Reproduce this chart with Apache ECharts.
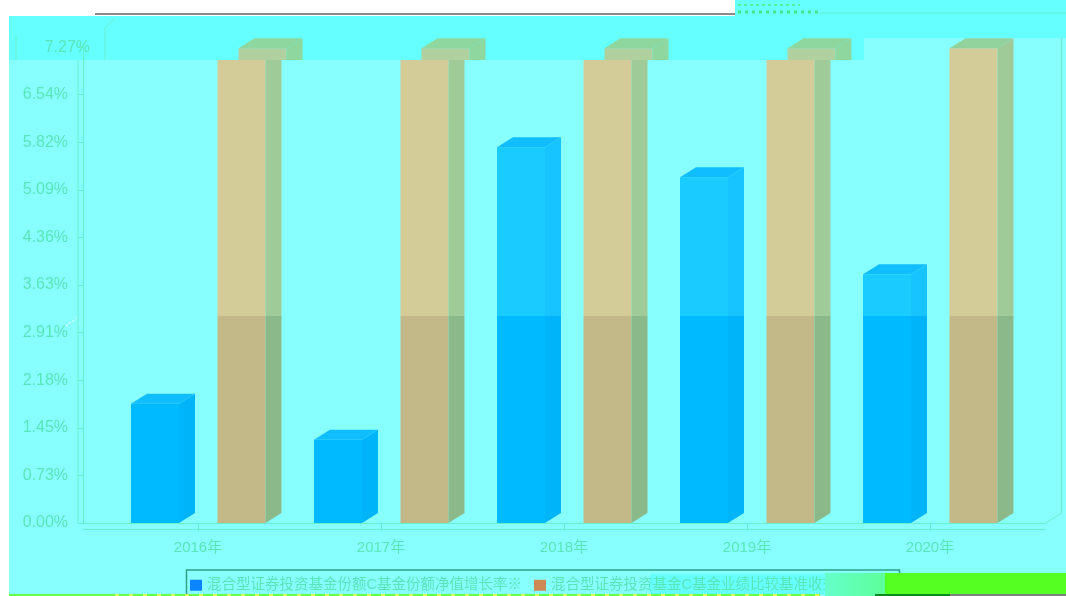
<!DOCTYPE html>
<html>
<head>
<meta charset="utf-8">
<style>html,body{margin:0;padding:0;background:#fff}#c{width:1066px;height:596px}</style>
<script src="https://cdn.jsdelivr.net/npm/echarts@6/dist/echarts.min.js"></script>
</head>
<body>
<div id="c"></div>
<script>
const categories = ['2016年', '2017年', '2018年', '2019年', '2020年'];
const fundReturn = [1.82, 1.27, 5.74, 5.28, 3.80];
const benchmarkReturn = [7.25, 7.25, 7.25, 7.25, 7.25];
const tickLabels = ['0.00%', '0.73%', '1.45%', '2.18%', '2.91%', '3.63%', '4.36%', '5.09%', '5.82%', '6.54%', '7.27%'];
const legendNames = ['混合型证券投资基金份额C基金份额净值增长率※', '混合型证券投资基金C基金业绩比较基准收益率'];

const TEXT = '#58E6B8', LINE = '#66F0CC';
const DX = 16, DY = -10, W = 48;
const SHADE_VALUE = 3.16, BAND_VALUE = 7.07, BAND_SHIFT = 21;

function poly(points, fill) {
  return { type: 'polygon', shape: { points }, style: { fill, stroke: null } };
}
function bar3d(pal, offset, shiftedCats) {
  return function (params, api) {
    const i = api.value(0), v = api.value(1);
    const kids = [];
    const cx = api.coord([i, 0])[0] + offset;
    const y = val => api.coord([i, val])[1];
    const yTop = y(v), yBase = y(0), yShade = y(SHADE_VALUE), yBand = y(BAND_VALUE);
    const sh = shiftedCats.includes(i) && v > BAND_VALUE;
    const L = cx - W / 2, R = L + W;
    if (v <= SHADE_VALUE) {
      kids.push(poly([[L, yBase], [R, yBase], [R, yTop], [L, yTop]], pal.frontLow));
      kids.push(poly([[R, yBase], [R + DX, yBase + DY], [R + DX, yTop + DY], [R, yTop]], pal.sideLow));
      kids.push(poly([[L, yTop], [R, yTop], [R + DX, yTop + DY], [L + DX, yTop + DY]], pal.top));
    } else {
      // lower darker part: the shade boundary is a flat horizontal edge across the front and side
      kids.push(poly([[L, yBase], [R, yBase], [R, yShade], [L, yShade]], pal.frontLow));
      kids.push(poly([[R, yBase], [R + DX, yBase + DY], [R + DX, yShade], [R, yShade]], pal.sideLow));
      const yEnd = sh ? yBand : yTop;
      kids.push(poly([[L, yShade], [R, yShade], [R, yEnd], [L, yEnd]], pal.front));
      if (sh) {
        kids.push(poly([[R, yShade], [R + DX, yShade], [R + DX, yBand], [R, yBand]], pal.side));
        const l = L + BAND_SHIFT, r = R + BAND_SHIFT;
        kids.push(poly([[l, yBand], [r, yBand], [r, yTop], [l, yTop]], pal.bandFront));
        kids.push(poly([[r, yBand], [r + DX, yBand], [r + DX, yTop + DY], [r, yTop]], pal.bandSide));
        kids.push(poly([[l, yTop], [r, yTop], [r + DX, yTop + DY], [l + DX, yTop + DY]], pal.bandSide));
      } else {
        kids.push(poly([[R, yShade], [R + DX, yShade], [R + DX, yTop + DY], [R, yTop]], pal.side));
        kids.push(poly([[L, yTop], [R, yTop], [R + DX, yTop + DY], [L + DX, yTop + DY]], pal.top));
      }
    }
    return { type: 'group', children: kids };
  };
}
const bluePal = { front: '#19CBFF', side: '#17C4FF', top: '#10BDFF', frontLow: '#00BAFF', sideLow: '#00B4FA' };
const tanPal = { front: '#D3CB98', side: '#9FCB98', top: '#92D29C', frontLow: '#C3B888', sideLow: '#8CB98A', bandFront: '#B0D0A0', bandSide: '#8ED8A0' };

const rect = (x, y, w, h, fill, z) => ({ type: 'rect', shape: { x, y, width: w, height: h }, style: { fill }, z });
const line = (x1, y1, x2, y2, stroke, z, lineWidth, lineDash) => ({ type: 'line', shape: { x1, y1, x2, y2 }, style: { stroke, lineWidth: lineWidth || 1, lineDash: lineDash || null }, z });

const chart = echarts.init(document.getElementById('c'), null, { renderer: 'canvas' });
chart.setOption({
  animation: false,
  backgroundColor: '#fff',
  textStyle: { fontFamily: 'Liberation Sans, Noto Sans CJK SC, sans-serif' },
  grid: { left: 106.5, top: 47, width: 915, height: 476 },
  xAxis: {
    type: 'category', data: categories,
    axisLine: { show: false },
    axisTick: { show: true, alignWithLabel: true, length: 8, lineStyle: { color: LINE } },
    axisLabel: { color: TEXT, fontSize: 15, margin: 17 }
  },
  yAxis: {
    type: 'value', min: 0, max: 7.2695, interval: 0.72695, offset: 23.5,
    axisLine: { show: true, lineStyle: { color: LINE } },
    axisTick: { show: true, length: 5, lineStyle: { color: LINE } },
    splitLine: { show: false },
    axisLabel: {
      color: TEXT, fontSize: 16, margin: 15,
      formatter: (value, index) => index === tickLabels.length - 1 ? '' : tickLabels[index]
    }
  },
  legend: {
    left: 186, top: 578, padding: [0, 4], itemWidth: 12, itemGap: 12, itemHeight: 11,
    icon: 'rect', textStyle: { color: TEXT, fontSize: 14.5 },
    data: legendNames
  },
  series: [
    { type: 'custom', name: legendNames[0], itemStyle: { color: '#0A84FF' }, clip: false,
      renderItem: bar3d(bluePal, -43, []), data: fundReturn.map((v, i) => [i, v]), encode: { x: 0, y: 1 } },
    { type: 'custom', name: legendNames[1], itemStyle: { color: '#CC8855' }, clip: false,
      renderItem: bar3d(tanPal, 43.5, [0, 1, 2, 3]), data: benchmarkReturn.map((v, i) => [i, v]), encode: { x: 0, y: 1 } }
  ],
  graphic: [
    rect(9, 16, 1057, 580, '#88FFFF', -10),
    rect(9, 16, 855, 44, '#66FFFF', -9),
    rect(864, 16, 202, 22, '#66FFFF', -9),
    rect(735, 0, 331, 16, '#66FFFF', -9),
    line(95, 14, 735, 14, '#8A8A8A', -8, 2),
    line(738, 5, 800, 5, '#55F0A0', -8, 2, [3, 3]),
    line(738, 12, 818, 12, '#44E888', -8, 3, [3, 4]),
    line(820, 13, 1066, 13, '#5CF0D0', -8),
    line(105, 60, 105, 28, LINE, -8),
    line(105, 28, 115, 18, LINE, -8),
    line(16, 35, 16, 60, LINE, -8),
    line(78, 60, 78, 523, LINE, -8),
    line(83, 523.5, 1045, 523.5, LINE, -8),
    line(83, 529.5, 1046, 529.5, LINE, -8),
    line(1045, 523.5, 1061.5, 513, LINE, -8),
    line(1061.5, 513, 1061.5, 38, LINE, -8),
    { type: 'text', z: 5, style: { x: 90, y: 47.5, text: tickLabels[tickLabels.length - 1], fill: TEXT, fontSize: 16, fontFamily: 'Liberation Sans', align: 'right', verticalAlign: 'middle' } },
    { type: 'line', z: 5, shape: { x1: 66, y1: 326, x2: 78, y2: 317 }, style: { stroke: '#fff', lineWidth: 1, lineDash: [2, 2] } },
    rect(650, 574, 175, 20, '#66FFFF', -8),
    { type: 'rect', z: 8, shape: { x: 825, y: 573, width: 60, height: 23 }, style: { fill: new echarts.graphic.LinearGradient(0, 0, 1, 0, [{ offset: 0, color: '#66FFCC' }, { offset: 1, color: '#5CFF99' }]) } },
    { type: 'rect', z: 9, shape: { x: 186.5, y: 570, width: 713, height: 30 }, style: { fill: 'none', stroke: '#2E9E86', lineWidth: 1.5 } },
    rect(885, 573, 181, 23, '#55FF22', 10),
    rect(9, 594, 811, 2, '#66FF44', 10),
    line(115, 595, 820, 595, '#DDFF55', 11, 2, [4, 10]),
    rect(875, 594, 75, 2, '#0B8A1E', 11),
    rect(950, 594, 116, 2, '#808080', 11)
  ]
});
</script>
</body>
</html>
